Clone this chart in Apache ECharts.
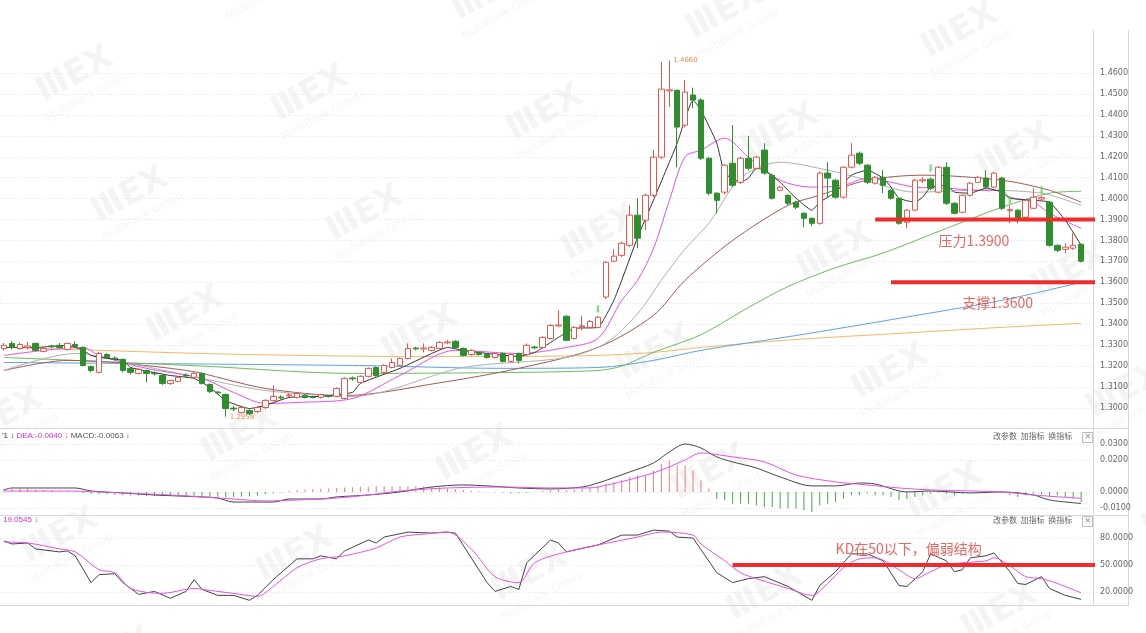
<!DOCTYPE html>
<html><head><meta charset="utf-8">
<script src="https://cdn.jsdelivr.net/npm/echarts@6/dist/echarts.min.js"></script>
<style>html,body{margin:0;padding:0;background:#fff}#c{width:1146px;height:633px}</style>
</head><body><div id="c"></div>
<script>
// ---------- data ----------
const slotCount = 138; // 137 candles + one empty slot on the right
const categories = Array.from({length: slotCount}, (_, i) => 'K' + (i + 1));

// [open, close, low, high]
const candles = [
[1.3284,1.3299,1.3275,1.3310],[1.3308,1.3289,1.3280,1.3318],[1.3284,1.3303,1.3278,1.3312],[1.3289,1.3296,1.3280,1.3315],
[1.3308,1.3275,1.3270,1.3312],[1.3270,1.3284,1.3265,1.3290],[1.3296,1.3292,1.3285,1.3302],[1.3299,1.3289,1.3283,1.3310],
[1.3279,1.3308,1.3275,1.3312],[1.3303,1.3294,1.3285,1.3318],[1.3289,1.3203,1.3198,1.3294],[1.3198,1.3179,1.3170,1.3203],
[1.3170,1.3260,1.3165,1.3268],[1.3255,1.3241,1.3236,1.3262],[1.3238,1.3234,1.3227,1.3246],[1.3232,1.3179,1.3170,1.3236],
[1.3189,1.3170,1.3160,1.3193],[1.3165,1.3184,1.3160,1.3190],[1.3179,1.3165,1.3122,1.3184],[1.3167,1.3163,1.3155,1.3175],
[1.3155,1.3117,1.3110,1.3160],[1.3117,1.3131,1.3110,1.3135],[1.3127,1.3146,1.3122,1.3150],[1.3157,1.3153,1.3145,1.3165],
[1.3146,1.3165,1.3141,1.3170],[1.3165,1.3117,1.3112,1.3170],[1.3112,1.3079,1.3070,1.3117],[1.3076,1.3072,1.3065,1.3080],
[1.3064,1.2997,1.2958,1.3069],[1.2999,1.2995,1.2985,1.3010],[1.2978,1.3002,1.2973,1.3010],[1.2988,1.2973,1.2965,1.2993],
[1.2983,1.3002,1.2975,1.3007],[1.3002,1.3036,1.2995,1.3041],[1.3036,1.3055,1.3030,1.3107],[1.3052,1.3048,1.3040,1.3060],
[1.3058,1.3062,1.3050,1.3070],[1.3050,1.3069,1.3045,1.3075],[1.3060,1.3050,1.3045,1.3065],[1.3052,1.3050,1.3045,1.3058],
[1.3050,1.3064,1.3045,1.3068],[1.3057,1.3055,1.3050,1.3060],[1.3055,1.3093,1.3050,1.3098],[1.3045,1.3141,1.3040,1.3146],
[1.3143,1.3139,1.3130,1.3150],[1.3122,1.3151,1.3117,1.3155],[1.3151,1.3189,1.3146,1.3193],[1.3193,1.3155,1.3150,1.3198],
[1.3170,1.3203,1.3165,1.3208],[1.3193,1.3217,1.3189,1.3236],[1.3203,1.3236,1.3198,1.3241],[1.3236,1.3284,1.3232,1.3308],
[1.3286,1.3282,1.3275,1.3292],[1.3282,1.3286,1.3265,1.3308],[1.3275,1.3289,1.3270,1.3295],[1.3284,1.3313,1.3280,1.3318],
[1.3311,1.3315,1.3305,1.3325],[1.3318,1.3289,1.3284,1.3323],[1.3284,1.3251,1.3246,1.3289],[1.3255,1.3275,1.3250,1.3280],
[1.3265,1.3255,1.3250,1.3270],[1.3255,1.3241,1.3236,1.3260],[1.3241,1.3260,1.3236,1.3265],[1.3260,1.3222,1.3217,1.3265],
[1.3222,1.3255,1.3217,1.3260],[1.3260,1.3227,1.3212,1.3265],[1.3255,1.3299,1.3250,1.3308],[1.3291,1.3287,1.3280,1.3296],
[1.3289,1.3337,1.3284,1.3342],[1.3332,1.3394,1.3327,1.3400],[1.3392,1.3396,1.3385,1.3467],[1.3438,1.3323,1.3318,1.3443],
[1.3332,1.3385,1.3327,1.3390],[1.3388,1.3392,1.3371,1.3440],[1.3385,1.3413,1.3380,1.3420],[1.3385,1.3433,1.3380,1.3440],
[1.3530,1.3696,1.3520,1.3700],[1.3701,1.3725,1.3696,1.3758],[1.3729,1.3787,1.3720,1.3795],[1.3777,1.3921,1.3770,1.3968],
[1.3921,1.3811,1.3763,1.4002],[1.3897,1.4016,1.3850,1.4025],[1.4016,1.4198,1.4007,1.4232],[1.4198,1.4523,1.4190,1.4653],
[1.4515,1.4520,1.4437,1.4660],[1.4518,1.4342,1.4150,1.4520],[1.4351,1.4509,1.4340,1.4567],[1.4495,1.4471,1.4432,1.4530],
[1.4471,1.4193,1.4185,1.4480],[1.4193,1.4026,1.4016,1.4198],[1.4026,1.3992,1.3930,1.4031],[1.4031,1.4160,1.4020,1.4165],
[1.4169,1.4064,1.4055,1.4351],[1.4078,1.4193,1.4070,1.4200],[1.4193,1.4145,1.4135,1.4300],[1.4145,1.4198,1.4140,1.4205],
[1.4232,1.4122,1.4115,1.4265],[1.4112,1.4002,1.3995,1.4120],[1.4040,1.4055,1.4035,1.4060],[1.4016,1.3978,1.3970,1.4020],
[1.3983,1.3959,1.3950,1.3990],[1.3930,1.3906,1.3863,1.3935],[1.3906,1.3882,1.3868,1.3910],[1.3882,1.4122,1.3875,1.4130],
[1.4122,1.4098,1.4007,1.4174],[1.4088,1.4007,1.4000,1.4095],[1.4007,1.4150,1.4000,1.4155],[1.4150,1.4208,1.4145,1.4265],
[1.4217,1.4169,1.4160,1.4225],[1.4160,1.4078,1.4070,1.4165],[1.4074,1.4102,1.4068,1.4108],[1.4102,1.4064,1.4026,1.4136],
[1.4040,1.4002,1.3995,1.4045],[1.4002,1.3882,1.3875,1.4007],[1.3887,1.3945,1.3858,1.3950],[1.3945,1.4088,1.3940,1.4095],
[1.4085,1.4090,1.4075,1.4102],[1.4093,1.4050,1.4040,1.4100],[1.4031,1.4150,1.4025,1.4155],[1.4150,1.3978,1.3970,1.4174],
[1.3978,1.3930,1.3925,1.3983],[1.3935,1.4016,1.3930,1.4020],[1.4016,1.4074,1.4010,1.4080],[1.4078,1.4102,1.4075,1.4108],
[1.4098,1.4055,1.4050,1.4136],[1.4055,1.4122,1.4050,1.4128],[1.4098,1.3954,1.3945,1.4105],[1.3943,1.3947,1.3882,1.3968],
[1.3945,1.3906,1.3882,1.3950],[1.3911,1.3992,1.3905,1.3998],[1.3954,1.4007,1.3950,1.4050],[1.3998,1.4005,1.3992,1.4012],
[1.3983,1.3777,1.3770,1.3990],[1.3777,1.3753,1.3745,1.3780],[1.3758,1.3768,1.3739,1.3787],[1.3763,1.3777,1.3755,1.3834],
[1.3782,1.3701,1.3695,1.3785]
];

// moving averages read at sample candles: [candle index, price]
const ma5 = [[0,1.3289],[4,1.3289],[8,1.3299],[10,1.3275],[11,1.3251],[12,1.3241],[15,1.3227],[16,1.3193],[21,1.3155],[24,1.3141],[26,1.3098],[28,1.3035],[31,1.2997],[33,1.3012],[36,1.3050],[40,1.3055],[44,1.3074],[45,1.3117],[50,1.3189],[54,1.3260],[56,1.3289],[58,1.3275],[61,1.3260],[65,1.3246],[67,1.3265],[70,1.3337],[72,1.3380],[75,1.3385],[77,1.3514],[78,1.3610],[80,1.3815],[82,1.3992],[85,1.4265],[87,1.4471],[88,1.4423],[90,1.4265],[91,1.4122],[93,1.4078],[94,1.4098],[95,1.4145],[96,1.4136],[98,1.4078],[100,1.4002],[102,1.3945],[103,1.3983],[105,1.4031],[107,1.4112],[109,1.4136],[111,1.4098],[112,1.4055],[113,1.4002],[115,1.3983],[116,1.4007],[117,1.4055],[119,1.4064],[120,1.4031],[122,1.4026],[124,1.4050],[126,1.4031],[127,1.4002],[130,1.3992],[132,1.3983],[134,1.3897],[136,1.3777]];
const ma10 = [[0,1.3251],[10,1.3289],[12,1.3251],[18,1.3189],[25,1.3141],[29,1.3074],[33,1.3021],[37,1.3026],[44,1.3045],[50,1.3155],[57,1.3275],[65,1.3260],[71,1.3289],[75,1.3332],[78,1.3514],[80,1.3610],[82,1.3760],[84,1.3990],[86,1.4200],[88,1.4232],[91,1.4289],[94,1.4198],[98,1.4088],[102,1.4055],[106,1.4064],[109,1.4098],[112,1.4078],[115,1.4055],[119,1.4050],[123,1.4040],[126,1.4040],[127,1.4007],[130,1.3983],[132,1.3930],[136,1.3858]];
const ma20 = [[0,1.3179],[9,1.3260],[16,1.3212],[25,1.3141],[33,1.3083],[44,1.3055],[58,1.3193],[71,1.3241],[76,1.3310],[80,1.3450],[83,1.3610],[86,1.3760],[89,1.3882],[93,1.4098],[98,1.4174],[104,1.4136],[108,1.4098],[115,1.4031],[123,1.4040],[131,1.4026],[136,1.3968]];
const ma30 = [[0,1.3179],[8,1.3227],[23,1.3179],[33,1.3093],[43,1.3059],[55,1.3120],[65,1.3189],[75,1.3289],[82,1.3442],[86,1.3610],[92,1.3800],[99,1.3968],[103,1.4016],[109,1.4088],[116,1.4112],[126,1.4088],[132,1.4040],[136,1.3983]];
const ma60 = [[0,1.3241],[9,1.3227],[25,1.3200],[44,1.3165],[63,1.3169],[75,1.3179],[78,1.3200],[82,1.3265],[88,1.3350],[94,1.3480],[99,1.3580],[105,1.3670],[111,1.3740],[119,1.3858],[126,1.3959],[132,1.4026],[136,1.4035]];
const ma120 = [[0,1.3217],[44,1.3203],[63,1.3189],[75,1.3193],[82,1.3227],[88,1.3275],[100,1.3346],[113,1.3428],[126,1.3514],[136,1.3600]];
const ma240 = [[0,1.3289],[12,1.3275],[25,1.3260],[37,1.3251],[50,1.3246],[63,1.3246],[75,1.3251],[82,1.3265],[88,1.3289],[100,1.3327],[113,1.3356],[126,1.3385],[136,1.3404]];

const priceTicks = [1.30,1.31,1.32,1.33,1.34,1.35,1.36,1.37,1.38,1.39,1.40,1.41,1.42,1.43,1.44,1.45,1.46];
const resistance = {from: 110.4, to: 137.5, level: 1.39, text: '压力1.3900', at: [118, 1.3801]};
const support = {from: 111.5, to: 137.5, level: 1.36, text: '支撑1.3600', at: [121.3, 1.3504]};
const highMark = {at: [84, 1.4660], text: '1.4660'};
const lowMark = {at: [28, 1.2958], text: '1.2958'};
const signals = [[75, 1.3471], [117, 1.4145], [127, 1.3992], [131, 1.4040]];

// MACD panel
const macdHist = [
0.002,0.002,0.002,0.0018,0.0015,0.0012,0.0008,0.0005,0.0004,0.0002,
-0.0008,-0.0012,-0.0012,-0.0015,-0.0018,-0.002,-0.0022,-0.0022,-0.0025,-0.0025,-0.0025,-0.0025,-0.0028,-0.0028,-0.0025,-0.0028,-0.003,-0.003,-0.0035,-0.0032,-0.003,-0.0028,-0.0022,-0.0015,-0.0008,-0.0003,
0.0008,0.0012,0.0015,0.0018,0.002,0.0022,0.0025,0.0028,0.003,0.0032,0.0032,0.0035,0.0035,0.0035,0.0035,0.0035,0.0035,0.0032,0.003,0.0028,
0.0022,0.0018,0.0012,0.0008,0.0005,0.0002,-0.0002,-0.0005,-0.0008,-0.0008,-0.0005,
0.0002,0.0008,0.0012,0.0015,0.0012,0.0015,0.002,0.0028,0.0038,
0.0052,0.0063,0.0073,0.0094,0.0104,0.0104,0.0135,0.0177,0.0198,0.0167,0.0167,0.0135,0.0073,0.0021,
-0.0042,-0.0052,-0.0073,-0.0073,-0.0073,-0.0083,-0.0094,-0.0094,-0.0104,-0.0104,-0.0104,-0.0115,-0.0125,-0.0083,-0.0073,-0.0063,-0.0042,-0.0021,-0.0021,-0.001,-0.0021,-0.0021,-0.0031,-0.0052,-0.0042,-0.0031,-0.0021,-0.001,-0.0004,-0.001,-0.0021,-0.001,0.0002,0.0004,0.0004,0.0006,0.0004,-0.0021,-0.0031,-0.0021,-0.001,-0.0015,-0.0031,-0.0021,-0.0031,-0.0042,-0.0063
];
const dif = [[0,0.0013],[1,0.0025],[9,0.0025],[11,0.0006],[15,-0.0006],[19,-0.0019],[25,-0.0031],[27,-0.0038],[29,-0.0063],[34,-0.0063],[36,-0.0044],[40,-0.0044],[42,-0.0031],[46,-0.0019],[50,0.0],[54,0.0031],[58,0.0044],[61,0.0038],[65,0.0025],[69,0.0019],[73,0.0031],[75,0.0056],[79,0.0125],[82,0.0181],[84,0.025],[86,0.030],[88,0.0275],[90,0.0219],[92,0.0188],[95,0.015],[98,0.0094],[102,0.0038],[105,0.0038],[108,0.0056],[110,0.005],[114,0.0],[117,0.0006],[122,-0.0006],[126,0.0],[130,-0.0019],[132,-0.005],[136,-0.0072]];
const dea = [[0,0.0006],[8,0.0006],[12,0],[21,-0.0019],[29,-0.0044],[33,-0.0056],[37,-0.005],[42,-0.0038],[46,-0.0019],[50,0.0006],[56,0.0025],[63,0.0031],[69,0.0025],[73,0.0025],[75,0.0031],[82,0.0119],[86,0.02],[88,0.0244],[92,0.0219],[96,0.0188],[100,0.0106],[105,0.0063],[109,0.0044],[113,0.0025],[117,0.0013],[126,0.0],[130,-0.0019],[136,-0.004]];
const macdTicks = [-0.01, 0, 0.02, 0.03];

// KD panel
const kLine = [[0,76.7],[1,73.4],[3,74.5],[4,67.9],[7,64.6],[8,65.7],[9,60.2],[11,30.5],[12,39.3],[14,40.4],[15,30.5],[17,17.4],[19,20.7],[21,13.0],[23,20.7],[24,33.8],[25,22.9],[27,16.3],[29,16.3],[31,10.8],[32,16.3],[34,33.8],[37,56.9],[39,56.9],[40,60.2],[42,56.9],[43,65.7],[46,77.8],[47,74.5],[48,81.1],[51,86.6],[54,85.5],[56,86.6],[57,85.5],[61,30.5],[62,20.7],[64,26.2],[65,22.9],[66,52.5],[69,77.8],[70,74.5],[71,64.6],[75,72.3],[78,83.3],[80,83.3],[82,88.8],[84,87.7],[85,81.1],[87,80.0],[90,41.5],[92,30.5],[94,34.9],[96,37.1],[99,26.2],[102,10.8],[103,27.3],[105,42.6],[107,62.4],[109,62.4],[111,54.7],[113,27.3],[114,26.2],[116,42.6],[117,62.4],[119,54.7],[120,42.6],[121,44.8],[122,58.0],[124,60.2],[125,63.5],[127,42.6],[128,29.5],[129,28.4],[131,37.1],[132,24.0],[134,16.3],[136,11.9]];
const dLine = [[0,75.6],[3,74.5],[7,67.9],[9,64.6],[12,44.8],[14,41.5],[16,24.0],[20,18.5],[24,24.0],[26,21.8],[29,18.5],[32,15.2],[34,26.2],[37,47.0],[40,56.9],[43,60.2],[47,69.0],[50,81.1],[53,84.4],[56,86.6],[59,67.9],[62,37.1],[65,30.5],[67,52.5],[71,64.6],[75,72.3],[80,81.1],[83,86.6],[87,83.3],[88,73.4],[91,54.7],[93,41.5],[95,34.9],[99,24.0],[102,16.3],[104,29.5],[106,47.0],[108,56.9],[110,58.0],[113,44.8],[115,34.9],[117,42.6],[119,50.3],[121,52.5],[124,54.7],[125,58.0],[127,49.2],[129,37.1],[131,34.9],[133,29.5],[136,19.05]];
const kdTicks = [20, 50, 80];
const kdLevel = {from: 92.3, to: 137.5, level: 50, text: 'KD在50以下，偏弱结构', at: [104.9, 67.9]};

// ---------- chart ----------
const chart = echarts.init(document.getElementById('c'), null, {renderer: 'canvas'});
const RED = '#ef2b2b';
const axisFont = {fontSize: 8, color: '#666', fontFamily: 'DejaVu Sans'};
function xAx(g){return {type:'category', gridIndex:g, data:categories, boundaryGap:true, axisLine:{show:false}, axisTick:{show:false}, axisLabel:{show:false}, splitLine:{show:false}};}
function yAx(g, min, max, ticks, dec){
  return {type:'value', gridIndex:g, position:'right', min, max, scale:true,
    axisLine:{show:false},
    axisTick:{show:false, customValues: ticks},
    axisLabel:Object.assign({show:true, margin:7, customValues: ticks, formatter: v => v.toFixed(dec)}, axisFont),
    splitLine:{show:true, lineStyle:{color:'#e3e3e3', type:[1,2], width:1}}};
}
function ma(data, color, smooth){return {type:'line', xAxisIndex:0, yAxisIndex:0, data, symbol:'none', smooth: smooth, lineStyle:{color, width:1}, z:3, silent:true};}
function hline(obj, g, color, w){return {type:'line', xAxisIndex:g, yAxisIndex:g, data:[[obj.from,obj.level],[obj.to,obj.level]], symbol:'none', lineStyle:{color, width:w}, z:6, silent:true};}
function note(obj, g, size, color){return {type:'scatter', xAxisIndex:g, yAxisIndex:g, symbolSize:0, z:7, silent:true,
  data:[{value:obj.at, name:obj.text}],
  label:{show:true, position:'right', distance:0, formatter:'{b}', color, fontSize:size, fontFamily:'"Noto Sans CJK SC", "Noto Sans", sans-serif'}};}

// watermarks
const wm = [];
for (let r = -1; r <= 5; r++) for (let c = -1; c <= 5; c++) {
  const x = 75 + 55*r + 235*c, y = 75 + 120*r + 19*c;
  if (x < -60 || x > 1200 || y < -40 || y > 660) continue;
  wm.push({type:'group', x, y, rotation:0.5, silent:true, z:-10, children:[
    {type:'text', z:-10, style:{text:'ⅢEX', x:0, y:0, fill:'rgba(0,0,0,0.045)', font:'bold 34px "DejaVu Sans"', align:'center', verticalAlign:'middle', textAlign:'center', textVerticalAlign:'middle'}},
    {type:'text', z:-10, style:{text:'MultiBank Group', x:0, y:25, fill:'rgba(0,0,0,0.045)', font:'11px "DejaVu Sans"', align:'center', verticalAlign:'middle', textAlign:'center', textVerticalAlign:'middle'}}
  ]});
}

const frame = [
  {type:'line', shape:{x1:1093.5,y1:30,x2:1093.5,y2:606}, style:{stroke:'#d8d8d8', lineWidth:1}},
  {type:'line', shape:{x1:1128.5,y1:30,x2:1128.5,y2:606}, style:{stroke:'#d8d8d8', lineWidth:1}},
  {type:'line', shape:{x1:0,y1:428.5,x2:1129,y2:428.5}, style:{stroke:'#d8d8d8', lineWidth:1}},
  {type:'line', shape:{x1:0,y1:515.5,x2:1129,y2:515.5}, style:{stroke:'#d8d8d8', lineWidth:1}},
  {type:'line', shape:{x1:0,y1:605.5,x2:1129,y2:605.5}, style:{stroke:'#d8d8d8', lineWidth:1}}
];
function toolbar(y){
  return [
    {type:'text', left:993, top:y-5, style:{text:'改参数  加指标  换指标', fill:'#666', font:'8px "Noto Sans CJK SC"'}},
    {type:'rect', left:1082, top:y-5, shape:{width:10,height:10}, style:{fill:'#fff', stroke:'#bbb', lineWidth:1}},
    {type:'text', left:1084, top:y-5, style:{text:'×', fill:'#888', font:'9px "DejaVu Sans"'}}
  ];
}
const headers = [
  {type:'text', left:2, top:432, style:{rich:{a:{fill:'#333'},b:{fill:'#d62ed6'},c:{fill:'#555'}}, text:"{a|'1 ↓} {b|DEA:-0.0040 ↓} {c|MACD:-0.0063 ↓}", font:'8px "Liberation Sans"', fill:'#333'}},
  {type:'text', left:3, top:516, style:{text:'19.0545 ↓', fill:'#d62ed6', font:'8px "Liberation Sans"'}}
];

chart.setOption({
  animation:false,
  backgroundColor:'#fff',
  grid:[
    {left:0, top:40, width:1093, height:388},
    {left:0, top:428, width:1093, height:87},
    {left:0, top:515, width:1093, height:90}
  ],
  xAxis:[xAx(0), xAx(1), xAx(2)],
  yAxis:[
    yAx(0, 1.2904, 1.4758, priceTicks, 4),
    yAx(1, -0.0144, 0.04, macdTicks, 4),
    yAx(2, 5.6, 105.6, kdTicks, 4)
  ],
  graphic: wm.concat(frame, toolbar(437), toolbar(521), headers),
  series:[
    ma(ma240, '#f3b867', 0.3),
    ma(ma120, '#5da5e3', 0.3),
    ma(ma60, '#6dbb5f', 0.3),
    ma(ma30, '#a45a54', 0.3),
    ma(ma20, '#b0b0b0', 0.3),
    ma(ma10, '#e653e6', 0.3),
    ma(ma5, '#333333', 0.15),
    {type:'candlestick', xAxisIndex:0, yAxisIndex:0, data:candles, barWidth:6, z:4,
      itemStyle:{color:'#ffffff', color0:'#2f8f2f', borderColor:'#e5564e', borderColor0:'#2f8f2f', borderWidth:1}},
    hline(resistance, 0, RED, 4),
    hline(support, 0, RED, 4),
    note(resistance, 0, 14, '#e8403a'),
    note(support, 0, 14, '#e8403a'),
    {type:'scatter', xAxisIndex:0, yAxisIndex:0, symbolSize:0, z:7, silent:true,
      data:[{value:highMark.at, name:highMark.text},{value:lowMark.at, name:lowMark.text}],
      label:{show:true, position:'right', distance:4, formatter:'{b}', color:'#e0702a', fontSize:7, fontFamily:'DejaVu Sans'}},
    {type:'scatter', xAxisIndex:0, yAxisIndex:0, data:signals, z:7, silent:true,
      symbol:'path://M1,0 L3,0 L3,6 L4,6 L2,9 L0,6 L1,6 Z', symbolSize:[4,8], itemStyle:{color:'#5fd35f'}},
    {type:'bar', xAxisIndex:1, yAxisIndex:1, data:macdHist, barWidth:1, silent:true,
      itemStyle:{color: p => p.value >= 0 ? '#e87c7c' : '#4aa64a'}},
    {type:'line', xAxisIndex:1, yAxisIndex:1, data:dif, symbol:'none', smooth:0.3, lineStyle:{color:'#444', width:1}},
    {type:'line', xAxisIndex:1, yAxisIndex:1, data:dea, symbol:'none', smooth:0.3, lineStyle:{color:'#e653e6', width:1}},
    {type:'line', xAxisIndex:2, yAxisIndex:2, data:kLine, symbol:'none', lineStyle:{color:'#444', width:1}},
    {type:'line', xAxisIndex:2, yAxisIndex:2, data:dLine, symbol:'none', smooth:0.3, lineStyle:{color:'#e653e6', width:1}},
    hline(kdLevel, 2, RED, 4),
    note(kdLevel, 2, 14, '#e8403a')
  ]
});
</script>
</body></html>
